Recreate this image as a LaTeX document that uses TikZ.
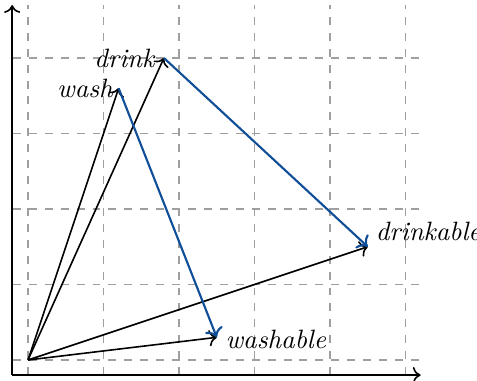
\documentclass[tikz,border=0pt]{standalone}
\usetikzlibrary{arrows.meta}
\definecolor{vecblue}{RGB}{16,78,152}
\tikzset{
  gridline/.style={dashed, gray!75, thin},
  axis/.style={->, semithick},
  vec/.style={->, semithick},
  offsetvec/.style={->, thick, vecblue},
  word/.style={font=\itshape, inner sep=2pt}
}

\begin{document}
\begin{tikzpicture}
  \useasboundingbox (-0.371,-0.278) rectangle (5.947,4.768);
  \draw[gridline] (-0.2,-0.2) grid (5.2,4.7);
  \draw[axis] (-0.21,-0.2) -- (5.2,-0.2);
  \draw[axis] (-0.21,-0.2) -- (-0.21,4.7);

  \coordinate (O) at (0,0);
  \coordinate (drink) at (1.8,4);
  \coordinate (wash) at (1.2,3.6);
  \coordinate (drinkable) at (4.5,1.5);
  \coordinate (washable) at (2.5,0.3);

  \node[word, left, xshift=-0.5mm] at (drink) {drink};
  \node[word, left] at (wash) {wash};
  \node[word, right, xshift=0.3mm, yshift=2mm] at (drinkable) {drinkable};
  \node[word, right, xshift=0.4mm, yshift=-0.3mm] at (washable) {washable};

  \draw[vec] (O) -- (drink);
  \draw[vec] (O) -- (wash);
  \draw[vec] (O) -- (drinkable);
  \draw[vec] (O) -- (washable);
  \draw[offsetvec] (drink) -- (drinkable);
  \draw[offsetvec] (wash) -- (washable);
\end{tikzpicture}
\end{document}
